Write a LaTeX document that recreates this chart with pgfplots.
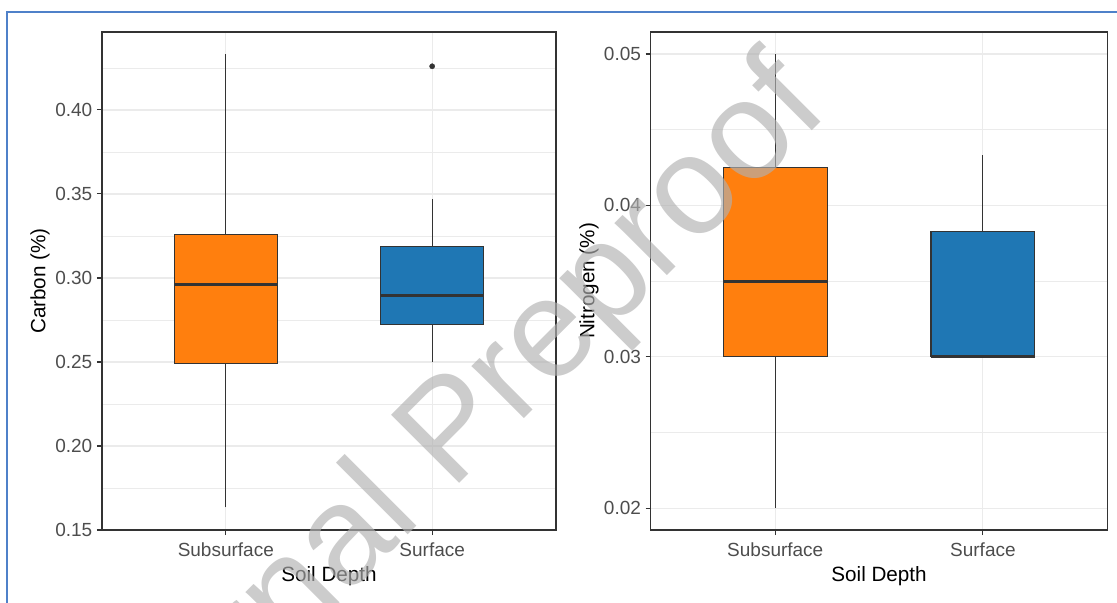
\documentclass[border=0pt]{standalone}
\usepackage{fontspec}
\setmainfont{Liberation Sans}
\usepackage{pgfplots}
\pgfplotsset{compat=1.18}

\definecolor{boxorange}{RGB}{255,127,14}
\definecolor{boxblue}{RGB}{31,119,180}
\definecolor{gridgray}{RGB}{235,235,235}
\definecolor{inkgray}{RGB}{51,51,51}
\definecolor{tickgray}{RGB}{77,77,77}
\definecolor{frameblue}{RGB}{79,129,201}
\definecolor{markgray}{RGB}{177,177,177}

\pgfplotsset{
  soilpanel/.style={
    scale only axis,
    height=373.5pt,
    xmin=0.4, xmax=2.6,
    xtick={1,2}, xticklabels={Subsurface,Surface},
    xtick pos=bottom, ytick pos=left,
    tick align=outside,
    major tick length=3.75pt,
    minor tick length=0pt,
    axis line style={inkgray, line width=0.8pt},
    tick style={inkgray, line width=0.8pt},
    xmajorgrids, ymajorgrids, yminorgrids,
    major grid style={gridgray, line width=0.9pt},
    minor grid style={gridgray, line width=0.45pt},
    tick label style={font=\fontsize{14.25}{17}\selectfont, text=tickgray},
    label style={font=\fontsize{15.5}{18}\selectfont, text=black},
    scaled y ticks=false,
    /pgf/number format/assume math mode=true,
    y tick label style={/pgf/number format/fixed,
      /pgf/number format/fixed zerofill,
      /pgf/number format/precision=2},
    xticklabel style={anchor=base, yshift=-15.75pt},
    xlabel style={at={(axis description cs:0.5,-0.1038)}, anchor=base},
    whisker/.style={inkgray, line width=0.6pt, forget plot},
    boxbody/.style={draw=inkgray, line width=0.8pt, forget plot},
    median/.style={inkgray, line width=2.1pt, forget plot},
  },
}

\begin{document}
\begin{tikzpicture}
\useasboundingbox (0,0) rectangle (837.75pt,452.25pt);

% Carbon (%): whiskers, boxes (Q1-Q3), medians, outlier
\begin{axis}[soilpanel,
  at={(76.5pt,54.75pt)}, anchor=south west,
  width=340.5pt,
  ymin=0.15, ymax=0.4464,
  ytick={0.15,0.20,0.25,0.30,0.35,0.40},
  minor ytick={0.175,0.225,0.275,0.325,0.375,0.425},
  xlabel={Soil Depth},
  ylabel={Carbon (\%)},
  ylabel style={at={(axis description cs:-0.1366,0.5)}, anchor=center},
]
% Subsurface
\addplot[whisker] coordinates {(1,0.1635) (1,0.2492)};
\addplot[whisker] coordinates {(1,0.3256) (1,0.4333)};
\addplot[boxbody, fill=boxorange] coordinates
  {(0.75,0.2492) (1.25,0.2492) (1.25,0.3256) (0.75,0.3256)} -- cycle;
\addplot[median] coordinates {(0.75,0.2962) (1.25,0.2962)};
% Surface
\addplot[whisker] coordinates {(2,0.2498) (2,0.2724)};
\addplot[whisker] coordinates {(2,0.3190) (2,0.3468)};
\addplot[boxbody, fill=boxblue] coordinates
  {(1.75,0.2724) (2.25,0.2724) (2.25,0.3190) (1.75,0.3190)} -- cycle;
\addplot[median] coordinates {(1.75,0.2895) (2.25,0.2895)};
\addplot[only marks, mark=*, mark size=2pt, inkgray,
  mark options={fill=inkgray, draw=inkgray, line width=0.2pt}]
  coordinates {(2,0.426)};
\end{axis}

% Nitrogen (%)
\begin{axis}[soilpanel,
  at={(488.0pt,54.75pt)}, anchor=south west,
  width=342.6pt,
  ymin=0.018566, ymax=0.051454,
  ytick={0.02,0.03,0.04,0.05},
  minor ytick={0.025,0.035,0.045},
  xlabel={Soil Depth},
  ylabel={Nitrogen (\%)},
  ylabel style={at={(axis description cs:-0.135,0.5)}, anchor=center},
]
% Subsurface
\addplot[whisker] coordinates {(1,0.020) (1,0.030)};
\addplot[whisker] coordinates {(1,0.0425) (1,0.050)};
\addplot[boxbody, fill=boxorange] coordinates
  {(0.75,0.030) (1.25,0.030) (1.25,0.0425) (0.75,0.0425)} -- cycle;
\addplot[median] coordinates {(0.75,0.035) (1.25,0.035)};
% Surface (median equals Q1)
\addplot[whisker] coordinates {(2,0.0383) (2,0.0433)};
\addplot[boxbody, fill=boxblue] coordinates
  {(1.75,0.030) (2.25,0.030) (2.25,0.0383) (1.75,0.0383)} -- cycle;
\addplot[median] coordinates {(1.75,0.030) (2.25,0.030)};
\end{axis}

% page frame
\draw[frameblue, line width=1.5pt] (5.25pt,0pt) -- (5.25pt,443.25pt) -- (837.75pt,443.25pt);

% watermark
\begin{scope}
  \clip (0pt,0pt) rectangle (837.75pt,452.25pt);
  \node[rotate=45, anchor=base west, inner sep=0pt, text=markgray,
        opacity=0.66, font=\fontsize{105}{110}\selectfont]
    at (74.25pt,-180.75pt) {Journal Preproof};
\end{scope}
\end{tikzpicture}
\end{document}
